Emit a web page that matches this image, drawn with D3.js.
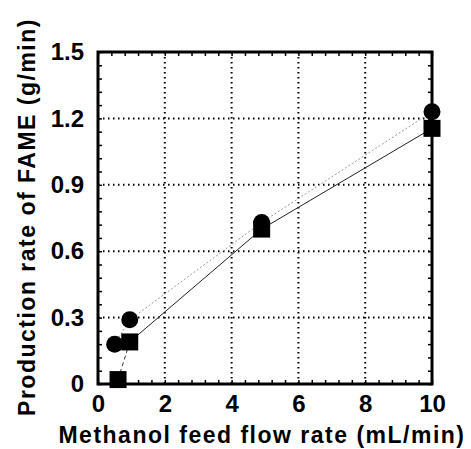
<!DOCTYPE html>
<html>
<head>
<meta charset="utf-8">
<script src="https://cdn.jsdelivr.net/npm/d3@7"></script>
<style>
body { margin: 0; background: #fff; }
svg { display: block; font-family: "Liberation Sans", Arial, sans-serif; font-weight: bold; }
</style>
</head>
<body>
<div id="chart"></div>
<script>
var svgWidth = 471;
var svgHeight = 449;
var margin = { top: 52, right: 39, bottom: 65, left: 98 }; // plot frame position

var chartWidth = svgWidth - margin.left - margin.right;
var chartHeight = svgHeight - margin.top - margin.bottom;

// data
var circleX = [0.5, 0.95, 4.9, 10];
var circleY = [0.18, 0.29, 0.73, 1.23];
var squareX = [0.6, 0.95, 4.9, 10];
var squareY = [0.02, 0.19, 0.70, 1.155];
var xTicks = [0, 2, 4, 6, 8, 10];
var yTicks = [0, 0.3, 0.6, 0.9, 1.2, 1.5];
var yTickLabels = ["0", "0.3", "0.6", "0.9", "1.2", "1.5"];

var svg = d3.select("#chart").append("svg")
    .attr("width", svgWidth)
    .attr("height", svgHeight);

var g = svg.append("g")
    .attr("transform", `translate(${margin.left},${margin.top})`);

var x = d3.scaleLinear().domain([0, 10]).range([0, chartWidth]);
var y = d3.scaleLinear().domain([0, 1.5]).range([chartHeight, 0]);

// dotted grid
g.selectAll(".vgrid").data(xTicks.slice(1, -1)).enter().append("line")
    .attr("x1", d => x(d)).attr("x2", d => x(d))
    .attr("y1", 0).attr("y2", chartHeight)
    .attr("stroke", "#000").attr("stroke-width", 2)
    .attr("stroke-dasharray", "1.5,3.5");
g.selectAll(".hgrid").data(yTicks.slice(1, -1)).enter().append("line")
    .attr("x1", 0).attr("x2", chartWidth)
    .attr("y1", d => y(d)).attr("y2", d => y(d))
    .attr("stroke", "#000").attr("stroke-width", 2)
    .attr("stroke-dasharray", "1.5,3.5");

// minor ticks, inward on all four sides
var xMinor = d3.range(0, 10.001, 0.4);
var yMinor = d3.range(0, 1.5001, 0.06);
g.append("g").attr("transform", `translate(0,${chartHeight})`)
    .call(d3.axisBottom(x).tickValues(xMinor).tickSize(-4).tickFormat(""))
    .call(a => a.select(".domain").remove());
g.append("g")
    .call(d3.axisTop(x).tickValues(xMinor).tickSize(-4).tickFormat(""))
    .call(a => a.select(".domain").remove());
g.append("g")
    .call(d3.axisLeft(y).tickValues(yMinor).tickSize(-4).tickFormat(""))
    .call(a => a.select(".domain").remove());
g.append("g").attr("transform", `translate(${chartWidth},0)`)
    .call(d3.axisRight(y).tickValues(yMinor).tickSize(-4).tickFormat(""))
    .call(a => a.select(".domain").remove());
g.selectAll(".tick line").attr("stroke-width", 1.5);

// tick labels
var xAxis = g.append("g").attr("transform", `translate(0,${chartHeight})`)
    .call(d3.axisBottom(x).tickValues(xTicks).tickSize(0).tickPadding(11).tickFormat(d3.format("d")));
xAxis.select(".domain").remove();
xAxis.selectAll("text").attr("font-size", 24).attr("font-weight", "bold")
    .attr("font-family", "Liberation Sans, Arial, sans-serif").attr("fill", "#000");

var yAxis = g.append("g")
    .call(d3.axisLeft(y).tickValues(yTicks).tickSize(0).tickPadding(14).tickFormat((d, i) => yTickLabels[i]));
yAxis.select(".domain").remove();
yAxis.selectAll("text").attr("font-size", 24).attr("font-weight", "bold")
    .attr("font-family", "Liberation Sans, Arial, sans-serif").attr("fill", "#000");

// series lines
var circlePts = circleX.map((d, i) => [d, circleY[i]]);
var squarePts = squareX.map((d, i) => [d, squareY[i]]);
var line = d3.line().x(d => x(d[0])).y(d => y(d[1]));

g.append("path").datum(circlePts)
    .attr("d", line).attr("fill", "none")
    .attr("stroke", "#999").attr("stroke-width", 1)
    .attr("stroke-dasharray", "2,2");
g.append("path").datum(squarePts.slice(0, 2))
    .attr("d", line).attr("fill", "none")
    .attr("stroke", "#333").attr("stroke-width", 1)
    .attr("stroke-dasharray", "4,3");
g.append("path").datum(squarePts.slice(1))
    .attr("d", line).attr("fill", "none")
    .attr("stroke", "#222").attr("stroke-width", 1);

// frame
g.append("rect")
    .attr("width", chartWidth).attr("height", chartHeight)
    .attr("fill", "none").attr("stroke", "#000").attr("stroke-width", 3);

// markers
g.selectAll(".circ").data(circlePts).enter().append("circle")
    .attr("cx", d => x(d[0])).attr("cy", d => y(d[1]))
    .attr("r", 8.5).attr("fill", "#000");
var sq = 17;
g.selectAll(".sq").data(squarePts).enter().append("rect")
    .attr("x", d => x(d[0]) - sq / 2).attr("y", d => y(d[1]) - sq / 2)
    .attr("width", sq).attr("height", sq).attr("fill", "#000");

// axis titles
svg.append("text")
    .attr("x", 262).attr("y", 443)
    .attr("text-anchor", "middle").attr("font-size", 23)
    .attr("letter-spacing", 1.5)
    .text("Methanol feed flow rate (mL/min)");
svg.append("text")
    .attr("transform", "translate(35,217) rotate(-90)")
    .attr("text-anchor", "middle").attr("font-size", 23)
    .attr("letter-spacing", 1.5)
    .text("Production rate of FAME (g/min)");
</script>
</body>
</html>
